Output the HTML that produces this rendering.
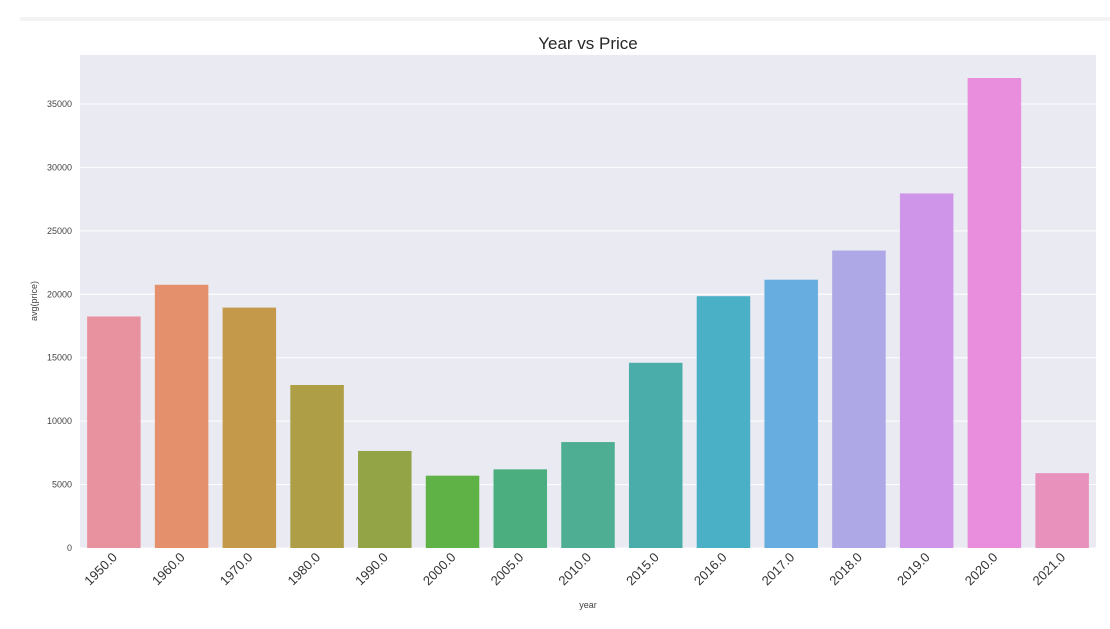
<!DOCTYPE html>
<html><head><meta charset="utf-8"><style>
body{margin:0;background:#fff;font-family:"Liberation Sans",Arial,sans-serif}
</style></head><body>
<svg id="chart" width="1110" height="624" xmlns="http://www.w3.org/2000/svg">
<rect x="20" y="17" width="1090" height="4" fill="#f3f3f3"/>
<rect x="80" y="55" width="1016" height="493" fill="#eaeaf2"/>
<g id="grid"></g><g id="bars"></g><g id="ticks"></g>
<text x="588" y="49" text-anchor="middle" font-size="17" fill="#262626">Year vs Price</text>
<text x="588" y="608" text-anchor="middle" font-size="9" fill="#444">year</text>
<text transform="translate(37,301) rotate(-90)" text-anchor="middle" font-size="9" fill="#444">avg(price)</text>
</svg>
<script>
const categories=["1950.0","1960.0","1970.0","1980.0","1990.0","2000.0","2005.0","2010.0","2015.0","2016.0","2017.0","2018.0","2019.0","2020.0","2021.0"];
const values=[18250,20750,18950,12850,7650,5700,6200,8350,14600,19850,21150,23450,27950,37050,5900];
const colors=["#e9929f","#e4906c","#c4994a","#ae9e45","#93a447","#5fb245","#4aae7f","#4dae93","#4aada9","#4ab0c6","#68addf","#aea8e6","#cf95e9","#e88edc","#e891bd"];
const yTicks=[0,5000,10000,15000,20000,25000,30000,35000];
const NS="http://www.w3.org/2000/svg";
const x0=80,x1=1096,y0=548,yTop=104,vTop=35000;
const band=(x1-x0)/categories.length;
const yScale=v=>y0-(v/vTop)*(y0-yTop);
const xScale=i=>x0+band*i+band/2;
function mk(t,a,p){const e=document.createElementNS(NS,t);for(const k in a)e.setAttribute(k,a[k]);p.appendChild(e);return e;}
const grid=document.getElementById('grid'),bars=document.getElementById('bars'),ticks=document.getElementById('ticks');
yTicks.forEach(v=>{
 const l=mk('line',{x1:x0,x2:x1,y1:yScale(v),y2:yScale(v),stroke:'#fff','stroke-width':1},grid);
 
 
 const t=mk('text',{x:72,y:yScale(v)+3,'text-anchor':'end','font-size':9,fill:'#444'},ticks);
 t.textContent=v;
 
 
});
values.forEach((v,i)=>{
 const w=band*0.79;
 const r=mk('rect',{x:xScale(i)-w/2,y:yScale(v),width:w,height:y0-yScale(v),fill:colors[i]},bars);
 
 
 const cx=xScale(i)+4,cy=558;
 const t=mk('text',{x:cx,y:cy,'text-anchor':'end','font-size':13,fill:'#333',transform:`rotate(-45 ${cx} ${cy})`},ticks);
 t.textContent=categories[i];
 
 
});
</script>
</body></html>
